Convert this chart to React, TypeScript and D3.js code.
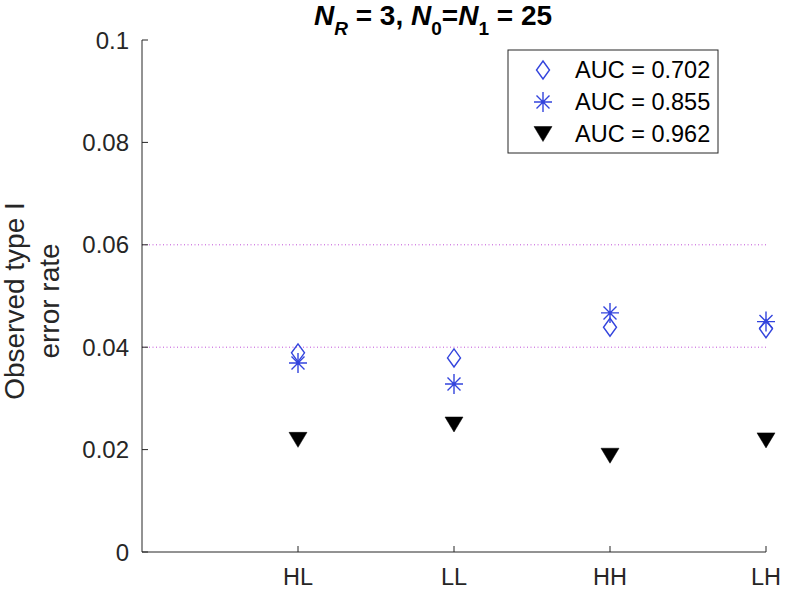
import React from "react";
import * as d3 from "d3";

const categories = ["HL", "LL", "HH", "LH"];
const auc702 = [0.0389, 0.0379, 0.0439, 0.0436];
const auc855 = [0.0369, 0.0328, 0.0467, 0.045];
const auc962 = [0.0219, 0.0249, 0.0188, 0.0218];
const yTicks = [0, 0.02, 0.04, 0.06, 0.08, 0.1];
const refLines = [0.04, 0.06];
const legendLabels = ["AUC = 0.702", "AUC = 0.855", "AUC = 0.962"];

const W = 787;
const H = 591;
const FONT = "'Liberation Sans', Arial, Helvetica, sans-serif";
const BLUE = "#3344dd";
const AXIS = "#262626";

const x = d3.scaleLinear().domain([0, 4]).range([142, 766]);
const y = d3.scaleLinear().domain([0, 0.1]).range([552, 40]);

function Diamond({ cx, cy }: { cx: number; cy: number }) {
  const w = 6.5, h = 9;
  return (
    <path
      d={`M${cx},${cy - h}L${cx + w},${cy}L${cx},${cy + h}L${cx - w},${cy}Z`}
      fill="none"
      stroke={BLUE}
      strokeWidth={1.4}
    />
  );
}

function Star({ cx, cy }: { cx: number; cy: number }) {
  const v = 10, hh = 9, dd = 6.5;
  return (
    <path
      d={`M${cx},${cy - v}L${cx},${cy + v}M${cx - hh},${cy}L${cx + hh},${cy}M${cx - dd},${cy - dd}L${cx + dd},${cy + dd}M${cx - dd},${cy + dd}L${cx + dd},${cy - dd}`}
      fill="none"
      stroke={BLUE}
      strokeWidth={1.4}
    />
  );
}

function Tri({ cx, cy }: { cx: number; cy: number }) {
  const w = 9, h = 7.5;
  return (
    <path
      d={`M${cx - w},${cy - h}L${cx + w},${cy - h}L${cx},${cy + h}Z`}
      fill="#000"
      stroke="#000"
      strokeWidth={0.5}
    />
  );
}

export default function App() {
  const xs = categories.map((_, i) => x(i + 1));
  return (
    <svg
      width={W}
      height={H}
      style={{ position: "absolute", left: 0, top: 0, background: "#fff" }}
      fontFamily={FONT}
    >
      {/* reference lines */}
      {refLines.map((v) => (
        <line
          key={v}
          x1={x(0)}
          x2={x(4)}
          y1={y(v)}
          y2={y(v)}
          stroke="#c04fd8"
          strokeWidth={1}
          strokeDasharray="1 2.5"
        />
      ))}

      {/* axes */}
      <line x1={x(0)} x2={x(0)} y1={y(0)} y2={y(0.1)} stroke={AXIS} strokeWidth={1} />
      <line x1={x(0)} x2={x(4)} y1={y(0)} y2={y(0)} stroke={AXIS} strokeWidth={1} />
      {yTicks.map((t) => (
        <g key={t}>
          <line x1={x(0)} x2={x(0) + 6} y1={y(t)} y2={y(t)} stroke={AXIS} />
          <text
            x={x(0) - 13}
            y={y(t)}
            dy="0.36em"
            textAnchor="end"
            fontSize={24}
            fill={AXIS}
          >
            {String(t)}
          </text>
        </g>
      ))}
      {categories.map((c, i) => (
        <g key={c}>
          <line x1={xs[i]} x2={xs[i]} y1={y(0)} y2={y(0) - 6} stroke={AXIS} />
          <text x={xs[i]} y={585} textAnchor="middle" fontSize={23.5} fill={AXIS}>
            {c}
          </text>
        </g>
      ))}

      {/* y label */}
      <text
        transform={`translate(24,301) rotate(-90)`}
        textAnchor="middle"
        fontSize={28}
        fill={AXIS}
      >
        Observed type I
      </text>
      <text
        transform={`translate(59,301) rotate(-90)`}
        textAnchor="middle"
        fontSize={28}
        fill={AXIS}
      >
        error rate
      </text>

      {/* title */}
      <text x={433} y={25} textAnchor="middle" fontSize={28} fontWeight="bold" fill="#000">
        <tspan fontStyle="italic">N</tspan>
        <tspan fontStyle="italic" fontSize={19} dy={10}>R</tspan>
        <tspan dy={-10}> = 3, </tspan>
        <tspan fontStyle="italic">N</tspan>
        <tspan fontSize={19} dy={10}>0</tspan>
        <tspan dy={-10}>=</tspan>
        <tspan fontStyle="italic">N</tspan>
        <tspan fontSize={19} dy={10}>1</tspan>
        <tspan dy={-10}> = 25</tspan>
      </text>

      {/* data */}
      {auc702.map((v, i) => (
        <Diamond key={"d" + i} cx={xs[i]} cy={y(v)} />
      ))}
      {auc855.map((v, i) => (
        <Star key={"s" + i} cx={xs[i]} cy={y(v)} />
      ))}
      {auc962.map((v, i) => (
        <Tri key={"t" + i} cx={xs[i]} cy={y(v)} />
      ))}

      {/* legend */}
      <rect x={508} y={50} width={210} height={103} fill="#fff" stroke={AXIS} strokeWidth={1} />
      {legendLabels.map((l, i) => {
        const ly = 70 + i * 32;
        return (
          <g key={l}>
            {i === 0 && <Diamond cx={543} cy={ly} />}
            {i === 1 && <Star cx={543} cy={ly} />}
            {i === 2 && <Tri cx={543} cy={ly} />}
            <text x={575} y={ly} dy="0.36em" fontSize={23.5} fill="#000">
              {l}
            </text>
          </g>
        );
      })}
    </svg>
  );
}
